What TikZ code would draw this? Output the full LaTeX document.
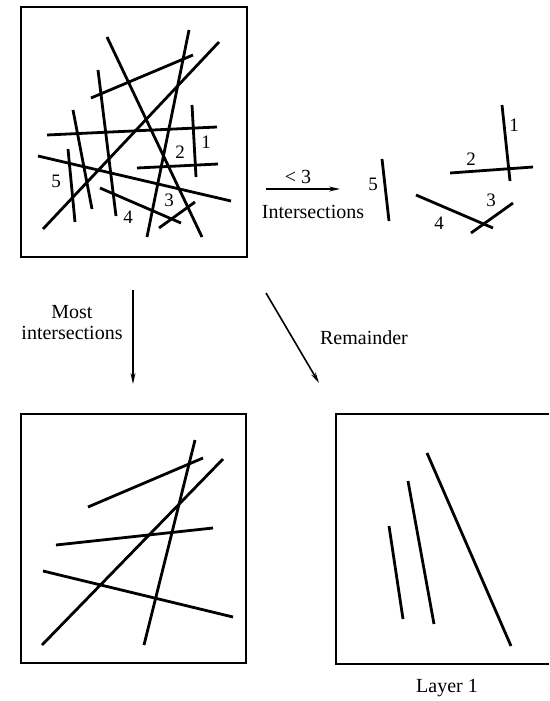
\documentclass[tikz,border=0pt]{standalone}
\usepackage{fontspec}
\setmainfont{Liberation Serif}
\usetikzlibrary{arrows.meta}
\begin{document}
\begin{tikzpicture}[x=1pt,y=-1pt,
  seg/.style={line width=2.8pt, line cap=butt},
  frame/.style={line width=1.6pt},
  num/.style={font=\fontsize{19}{19}\selectfont, inner sep=0pt},
  lab/.style={font=\fontsize{20}{21}\selectfont, inner sep=0pt, align=center},
  arr/.style={line width=1.6pt, -{Stealth[length=11pt,width=5pt]}}]
\useasboundingbox (0,0) rectangle (549,701);
% ---- top-left box: all segments
\draw[frame] (21,7) rectangle (247,257);
\draw[seg] (43,229) -- (219,42);
\draw[seg] (189,30) -- (147,237);
\draw[seg] (107,37) -- (202,237);
\draw[seg] (91,98) -- (193,55);
\draw[seg] (98,70) -- (116,216);
\draw[seg] (73,110) -- (92,209);
\draw[seg] (47,135) -- (217,127);
\draw[seg] (38,156) -- (231,201);
\draw[seg] (68,149) -- (75,222);
\draw[seg] (192,105) -- (196,177);
\draw[seg] (137,168) -- (218,164);
\draw[seg] (100,188) -- (181,223);
\draw[seg] (159,228) -- (195,202);
\node[num] (tl1) at (206,142) {1};
\node[num] (tl2) at (180,152) {2};
\node[num] (tl3) at (169,200) {3};
\node[num] (tl4) at (128,217) {4};
\node[num] (tl5) at (56,181) {5};
% ---- arrow "< 3 Intersections"
\coordinate (a1s) at (266,189);
\coordinate (a1e) at (340,189);
\draw[arr] (a1s) -- (a1e);
\node[lab] (lt3) at (298,177) {< 3};
\node[lab] (lint) at (313,212) {Intersections};
% ---- removed segments
\draw[seg] (382,159) -- (389,221);
\node[num] (r5) at (373,184) {5};
\draw[seg] (502,105) -- (510,181);
\node[num] (r1) at (514,125) {1};
\draw[seg] (450,173) -- (533,167);
\node[num] (r2) at (471,159) {2};
\draw[seg] (416,195) -- (493,228);
\node[num] (r4) at (439,223) {4};
\draw[seg] (471,233) -- (513,203);
\node[num] (r3) at (491,200) {3};
% ---- down arrows
\coordinate (a2s) at (133,290);
\coordinate (a2e) at (133,384);
\draw[arr] (a2s) -- (a2e);
\node[lab] (most) at (72,323) {Most\\intersections};
\coordinate (a3s) at (266,293);
\coordinate (a3e) at (319,383);
\draw[arr] (a3s) -- (a3e);
\node[lab] (rem) at (364,338) {Remainder};
% ---- bottom-left box
\draw[frame] (21,414) rectangle (246,663);
\draw[seg] (88,507) -- (203,458);
\draw[seg] (195,440) -- (144,645);
\draw[seg] (42,645) -- (223,459);
\draw[seg] (56,545) -- (213,528);
\draw[seg] (43,571) -- (233,617);
% ---- bottom-right box (layer 1)
\draw[frame] (549,414) -- (336,414) -- (336,664) -- (549,664);
\draw[seg] (389,526) -- (403,619);
\draw[seg] (408,481) -- (434,624);
\draw[seg] (427,453) -- (511,646);
\node[lab] (layer) at (447,688) {Layer 1};
\end{tikzpicture}
\end{document}
